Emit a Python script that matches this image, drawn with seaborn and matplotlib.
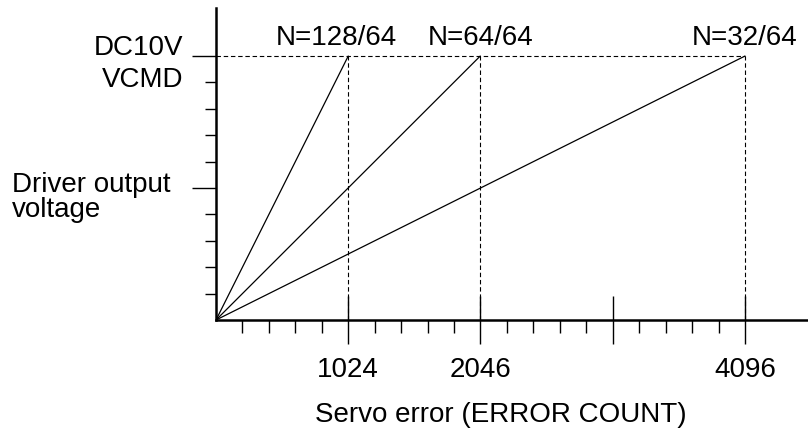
import numpy as np
import pandas as pd
import matplotlib
matplotlib.use("Agg")
import matplotlib.pyplot as plt
import seaborn as sns

# values
full_scale = 10                      # DC10V
end_counts = [1024, 2046, 4096]      # error count where VCMD reaches 10V
gain_labels = ["N=128/64", "N=64/64", "N=32/64"]
major_x = [1024, 2046, 3072, 4096]
major_x_labels = ["1024", "2046", "", "4096"]
minor_x = [i * 204.8 for i in range(1, 21) if i % 5 != 0]
major_y = [5, 10]
minor_y = [1, 2, 3, 4, 6, 7, 8, 9]

rows = []
for lab, xe in zip(gain_labels, end_counts):
    rows.append({"count": 0, "volt": 0, "N": lab})
    rows.append({"count": xe, "volt": full_scale, "N": lab})
df = pd.DataFrame(rows)

sns.set_style("white")
plt.rcParams["font.family"] = ["Liberation Sans", "DejaVu Sans"]
plt.rcParams["font.size"] = 20
plt.rcParams["text.color"] = "black"

W, H = 808, 430
fig = plt.figure(figsize=(W / 100, H / 100), dpi=100)
ax = fig.add_axes([216 / W, 1 - 320 / H, 1 - 216 / W, 312 / H])

sns.lineplot(data=df, x="count", y="volt", hue="N",
             palette=["black"] * 3, legend=False, lw=0.9, ax=ax)

# dashed guide lines
dash = (0, (4, 2.5))
ax.hlines(full_scale, 0, max(end_counts), colors="black", lw=0.8, linestyles=dash)
ax.vlines(end_counts, 0, full_scale, colors="black", lw=0.8, linestyles=dash)

ax.set_xlim(0, 4584)
ax.set_ylim(0, 11.82)

# axes look
for s in ["top", "right"]:
    ax.spines[s].set_visible(False)
for s in ["left", "bottom"]:
    ax.spines[s].set_linewidth(1.8)
    ax.spines[s].set_color("black")

ax.set_xticks(major_x)
ax.set_xticklabels(major_x_labels)
ax.set_xticks(minor_x, minor=True)
ax.tick_params(axis="x", which="both", bottom=True)
ax.tick_params(axis="x", which="major", direction="inout", length=35,
               width=1.0, pad=9, labelsize=20, colors="black")
ax.tick_params(axis="x", which="minor", direction="out", length=9.5,
               width=1.0, colors="black")

ax.set_yticks(major_y)
ax.set_yticklabels([])
ax.set_yticks(minor_y, minor=True)
ax.tick_params(axis="y", which="both", left=True)
ax.tick_params(axis="y", which="major", direction="out", length=17.5,
               width=1.0, colors="black")
ax.tick_params(axis="y", which="minor", direction="out", length=8,
               width=1.0, colors="black")
ax.set_xlabel("")
ax.set_ylabel("")

# gain labels above the top line
label_x = [1024 - 90, 2046, 4096]
for lab, xl in zip(gain_labels, label_x):
    ax.text(xl, 10.42, lab, ha="center", va="baseline", fontsize=20,
            color="black", clip_on=False)

def px(x, y):
    return x / W, 1 - y / H

fig.text(*px(183, 55), "DC10V", ha="right", va="baseline", fontsize=20)
fig.text(*px(183, 87), "VCMD", ha="right", va="baseline", fontsize=20)
fig.text(*px(12, 192), "Driver output", ha="left", va="baseline", fontsize=20)
fig.text(*px(12, 217), "voltage", ha="left", va="baseline", fontsize=20)
fig.text(*px(501, 422), "Servo error (ERROR COUNT)", ha="center",
         va="baseline", fontsize=20)

fig.savefig("out.png", dpi=100)
